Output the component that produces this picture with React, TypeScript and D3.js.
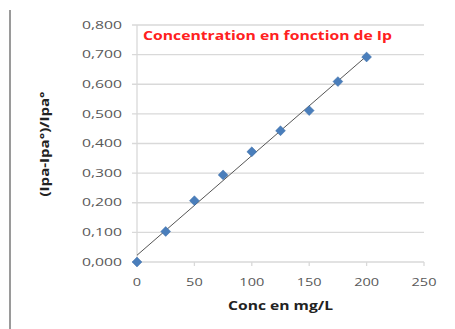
import React from "react";
import * as d3 from "d3";

const concentrations = [0, 25, 50, 75, 100, 125, 150, 175, 200];
const ratios = [0.0, 0.103, 0.207, 0.294, 0.372, 0.443, 0.511, 0.609, 0.692];
const xTicks = [0, 50, 100, 150, 200, 250];
const yTicks = [0, 0.1, 0.2, 0.3, 0.4, 0.5, 0.6, 0.7, 0.8];

const W = 455;
const H = 329;
const plot = { left: 137, right: 424, top: 25, bottom: 262 };

export default function App() {
  const x = d3.scaleLinear().domain([0, 250]).range([plot.left, plot.right]);
  const y = d3.scaleLinear().domain([0, 0.8]).range([plot.bottom, plot.top]);

  // least-squares trendline through the points
  const mx = d3.mean(concentrations)!;
  const my = d3.mean(ratios)!;
  const slope =
    d3.sum(concentrations, (c, i) => (c - mx) * (ratios[i] - my)) /
    d3.sum(concentrations, (c) => (c - mx) ** 2);
  const intercept = my - slope * mx;
  const xMin = d3.min(concentrations)!;
  const xMax = d3.max(concentrations)!;

  const fmtY = (v: number) => v.toFixed(3).replace(".", ",");
  const diamond = d3.symbol().type(d3.symbolDiamond2).size(62)();

  return (
    <svg
      width={W}
      height={H}
      style={{ position: "absolute", left: 0, top: 0, background: "#fff" }}
      fontFamily="Open Sans, Liberation Sans, sans-serif"
    >
      <line x1={10} x2={10} y1={10} y2={H} stroke="#9a9a9a" strokeWidth={2} />

      {yTicks.map((t) => (
        <g key={t}>
          <line
            x1={plot.left - 5}
            x2={plot.right}
            y1={y(t)}
            y2={y(t)}
            stroke="#d9d9d9"
            strokeWidth={1.3}
          />
          <text
            x={122}
            y={y(t)}
            dy="0.35em"
            textAnchor="end"
            fontSize={10.5}
            fill="#595959"
            textLength={40}
            lengthAdjust="spacingAndGlyphs"
          >
            {fmtY(t)}
          </text>
        </g>
      ))}

      <line
        x1={plot.left}
        x2={plot.left}
        y1={plot.top}
        y2={plot.bottom}
        stroke="#d9d9d9"
        strokeWidth={1.3}
      />

      {xTicks.map((t) => (
        <g key={t}>
          <line
            x1={x(t)}
            x2={x(t)}
            y1={plot.bottom}
            y2={plot.bottom + 4}
            stroke="#d9d9d9"
            strokeWidth={1.3}
          />
          <text
            x={x(t)}
            y={282}
            dy="0.35em"
            textAnchor="middle"
            fontSize={10.5}
            fill="#595959"
            textLength={String(t).length * 8.3}
            lengthAdjust="spacingAndGlyphs"
          >
            {t}
          </text>
        </g>
      ))}

      <line
        x1={x(xMin)}
        x2={x(xMax)}
        y1={y(intercept + slope * xMin)}
        y2={y(intercept + slope * xMax)}
        stroke="#555"
        strokeWidth={1}
      />

      {concentrations.map((c, i) => (
        <path
          key={c}
          d={diamond ?? ""}
          transform={`translate(${x(c)},${y(ratios[i])})`}
          fill="#4a7ebb"
          stroke="#3f6fa8"
          strokeWidth={0.5}
        />
      ))}

      <text
        x={143}
        y={35.5}
        dy="0.35em"
        fontSize={13}
        fontWeight="bold"
        fill="#ff2020"
        textLength={249}
        lengthAdjust="spacingAndGlyphs"
      >
        Concentration en fonction de Ip
      </text>

      <text
        x={228}
        y={305}
        dy="0.35em"
        fontSize={13}
        fontWeight="bold"
        fill="#222"
        textLength={105}
        lengthAdjust="spacingAndGlyphs"
      >
        Conc en mg/L
      </text>

      <text
        transform={`translate(44,144) rotate(-90)`}
        dy="0.35em"
        textAnchor="middle"
        fontSize={13}
        fontWeight="bold"
        fill="#222"
        textLength={105}
        lengthAdjust="spacingAndGlyphs"
      >
        (Ipa-Ipa°)/Ipa°
      </text>
    </svg>
  );
}
